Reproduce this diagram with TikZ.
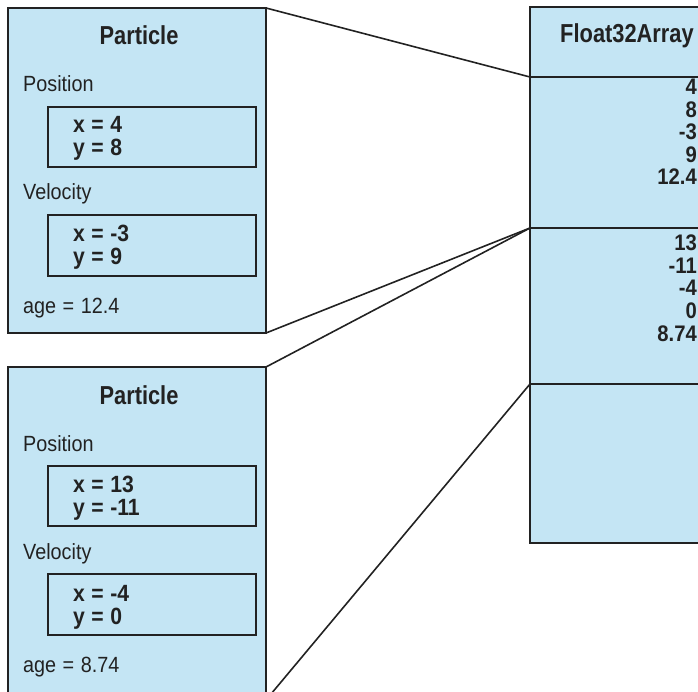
\documentclass[tikz,border=0pt]{standalone}
\usepackage{fontspec}
\setmainfont{Liberation Sans}
\newfontfamily\cf[FakeStretch=0.84]{Liberation Sans}
\newfontfamily\vf[FakeStretch=0.9]{Liberation Sans}
\definecolor{boxfill}{HTML}{C4E5F4}
\definecolor{ink}{HTML}{222222}
\newcommand{\titlef}{\cf\bfseries\fontsize{26}{30}\selectfont}
\newcommand{\labf}{\vf\fontsize{22}{26}\selectfont}
\newcommand{\valf}{\vf\bfseries\fontsize{23.5}{26}\selectfont}
\newcommand{\numf}{\vf\bfseries\fontsize{22.5}{26}\selectfont}
\newcommand{\myeq}{\hspace{6.5pt}=\hspace{6.5pt}}
\begin{document}
\begin{tikzpicture}[x=1pt,y=-1pt,
  outer/.style={draw=ink, line width=1.8pt, fill=boxfill, anchor=north west, inner sep=0pt, outer sep=0pt},
  innerbox/.style={draw=ink, line width=1.6pt, anchor=north west, inner sep=0pt, outer sep=0pt, minimum width=208pt, minimum height=60pt},
  conn/.style={draw=ink, line width=1.6pt},
  txt/.style={inner sep=0pt, text=ink}]
\useasboundingbox (0,0) rectangle (698,692);
\clip (0,0) rectangle (698,692);
% particle boxes
\node[outer, minimum width=258pt, minimum height=325pt] (p1) at (8,8) {};
\node[outer, minimum width=258pt, minimum height=333pt] (p2) at (8,367) {};
% array
\node[outer, minimum width=195pt, minimum height=70pt] (hd) at (530,7) {};
\node[outer, minimum width=195pt, minimum height=151pt] (s1) at (530,77) {};
\node[outer, minimum width=195pt, minimum height=156pt] (s2) at (530,228) {};
\node[outer, minimum width=195pt, minimum height=159pt] (s3) at (530,384) {};
% connectors
\draw[conn] (p1.north east) -- (s1.north west);
\draw[conn] (p1.south east) -- (s2.north west);
\draw[conn] (p2.north east) -- (s2.north west);
\draw[conn] (p2.south east) -- (s3.north west);
% particle 1 content
\node[txt, anchor=base] (t1) at (139,45) {\titlef Particle};
\node[txt, anchor=base west] (pos1) at (23,92) {\labf Position};
\node[innerbox] (pb1) at (48,107) {};
\node[txt, anchor=base west] (px1) at (73,133) {\valf x\myeq 4};
\node[txt, anchor=base west] (py1) at (73,156) {\valf y\myeq 8};
\node[txt, anchor=base west] (vel1) at (23,200) {\labf Velocity};
\node[innerbox, minimum height=61pt] (vb1) at (48,215) {};
\node[txt, anchor=base west] (vx1) at (73,242) {\valf x\myeq -3};
\node[txt, anchor=base west] (vy1) at (73,265) {\valf y\myeq 9};
\node[txt, anchor=base west] (age1) at (23,313) {\labf age\myeq 12.4};
% particle 2 content
\node[txt, anchor=base] (t2) at (139,404) {\titlef Particle};
\node[txt, anchor=base west] (pos2) at (23,451) {\labf Position};
\node[innerbox] (pb2) at (48,466) {};
\node[txt, anchor=base west] (px2) at (73,492) {\valf x\myeq 13};
\node[txt, anchor=base west] (py2) at (73,515) {\valf y\myeq -11};
\node[txt, anchor=base west] (vel2) at (23,559) {\labf Velocity};
\node[innerbox, minimum height=61pt] (vb2) at (48,574) {};
\node[txt, anchor=base west] (vx2) at (73,601) {\valf x\myeq -4};
\node[txt, anchor=base west] (vy2) at (73,624) {\valf y\myeq 0};
\node[txt, anchor=base west] (age2) at (23,672) {\labf age\myeq 8.74};
% array content
\node[txt, anchor=base] (ft) at (627,43) {\titlef Float32Array};
\node[txt, anchor=base east] (a1) at (697,95) {\numf 4};
\node[txt, anchor=base east] (a2) at (697,117.5) {\numf 8};
\node[txt, anchor=base east] (a3) at (697,140) {\numf -3};
\node[txt, anchor=base east] (a4) at (697,162.5) {\numf 9};
\node[txt, anchor=base east] (a5) at (697,185) {\numf 12.4};
\node[txt, anchor=base east] (b1) at (697,251) {\numf 13};
\node[txt, anchor=base east] (b2) at (697,273.5) {\numf -11};
\node[txt, anchor=base east] (b3) at (697,296) {\numf -4};
\node[txt, anchor=base east] (b4) at (697,318.5) {\numf 0};
\node[txt, anchor=base east] (b5) at (697,341) {\numf 8.74};
\end{tikzpicture}
\end{document}
